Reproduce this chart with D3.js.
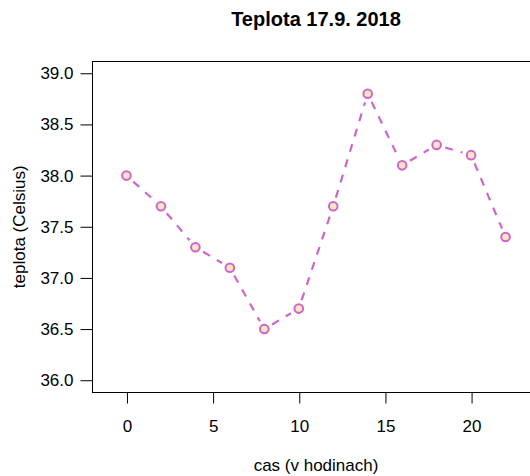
<!DOCTYPE html>
<html>
<head>
<meta charset="utf-8">
<script src="https://cdn.jsdelivr.net/npm/d3@7"></script>
<style>
  html, body { margin: 0; padding: 0; background: #fff; }
  svg { display: block; font-family: "Liberation Sans", Arial, Helvetica, sans-serif; }
</style>
</head>
<body>
<svg id="chart" width="530" height="476"></svg>
<script>
const hours = [0, 2, 4, 6, 8, 10, 12, 14, 16, 18, 20, 22];
const temps = [38.0, 37.7, 37.3, 37.1, 36.5, 36.7, 37.7, 38.8, 38.1, 38.3, 38.2, 37.4];
const xTicks = [0, 5, 10, 15, 20];
const yTicks = [36.0, 36.5, 37.0, 37.5, 38.0, 38.5, 39.0];
const title = "Teplota 17.9. 2018";
const xLabel = "cas (v hodinach)";
const yLabel = "teplota (Celsius)";

const W = 530, H = 476;
const plot = { left: 92, right: 540, top: 61, bottom: 392.5 };

const svg = d3.select("#chart");
const x = d3.scaleLinear().domain([-2, 24]).range([plot.left, plot.right]);
const y = d3.scaleLinear().domain([35.88, 39.12]).range([plot.bottom, plot.top]);

// box
svg.append("rect")
  .attr("x", plot.left + 0.5).attr("y", plot.top + 0.5)
  .attr("width", plot.right - plot.left).attr("height", plot.bottom - plot.top - 0.5)
  .attr("fill", "none").attr("stroke", "#000").attr("stroke-width", 1);

// axes
const xAxis = d3.axisBottom(x).tickValues(xTicks).tickSize(11).tickPadding(16)
  .tickFormat(d3.format("d"));
const gx = svg.append("g").attr("transform", `translate(0.5,${plot.bottom})`).call(xAxis);
gx.select(".domain").remove();
gx.selectAll("text").attr("font-size", 17).attr("font-family", null).attr("fill", "#000");
gx.selectAll("line").attr("stroke", "#000");

const yAxis = d3.axisLeft(y).tickValues(yTicks).tickSize(12).tickPadding(7)
  .tickFormat(d3.format(".1f"));
const gy = svg.append("g").attr("transform", `translate(${plot.left + 0.5},0)`).call(yAxis);
gy.select(".domain").remove();
gy.selectAll("text").attr("font-size", 17).attr("font-family", null).attr("fill", "#000");
gy.selectAll("line").attr("stroke", "#000");

// title and labels
svg.append("text").attr("x", (plot.left + plot.right) / 2).attr("y", 26)
  .attr("text-anchor", "middle").attr("font-size", 20).attr("font-weight", "bold")
  .text(title);
svg.append("text").attr("x", (plot.left + plot.right) / 2).attr("y", 471)
  .attr("text-anchor", "middle").attr("font-size", 17).text(xLabel);
svg.append("text")
  .attr("transform", `translate(25,${(plot.top + plot.bottom) / 2}) rotate(-90)`)
  .attr("text-anchor", "middle").attr("font-size", 17).text(yLabel);

// dashed segments with gaps near points (type = "b")
const col = "#CC66CC";
const gap = 9;
const pts = hours.map((h, i) => [x(h), y(temps[i])]);
const segs = [];
for (let i = 0; i < pts.length - 1; i++) {
  const [x1, y1] = pts[i], [x2, y2] = pts[i + 1];
  const dx = x2 - x1, dy = y2 - y1, L = Math.hypot(dx, dy);
  if (L > 2 * gap) {
    const ux = dx / L, uy = dy / L;
    segs.push([x1 + ux * gap, y1 + uy * gap, x2 - ux * gap, y2 - uy * gap]);
  }
}
svg.append("g").selectAll("line").data(segs).join("line")
  .attr("x1", d => d[0]).attr("y1", d => d[1])
  .attr("x2", d => d[2]).attr("y2", d => d[3])
  .attr("stroke", col).attr("stroke-width", 2.2)
  .attr("stroke-dasharray", "8,8");

svg.append("g").selectAll("circle").data(hours).join("circle")
  .attr("cx", d => x(d)).attr("cy", (d, i) => y(temps[i]))
  .attr("r", 4.3)
  .attr("fill", "#FFE4C4").attr("stroke", col).attr("stroke-width", 2);
</script>
</body>
</html>
